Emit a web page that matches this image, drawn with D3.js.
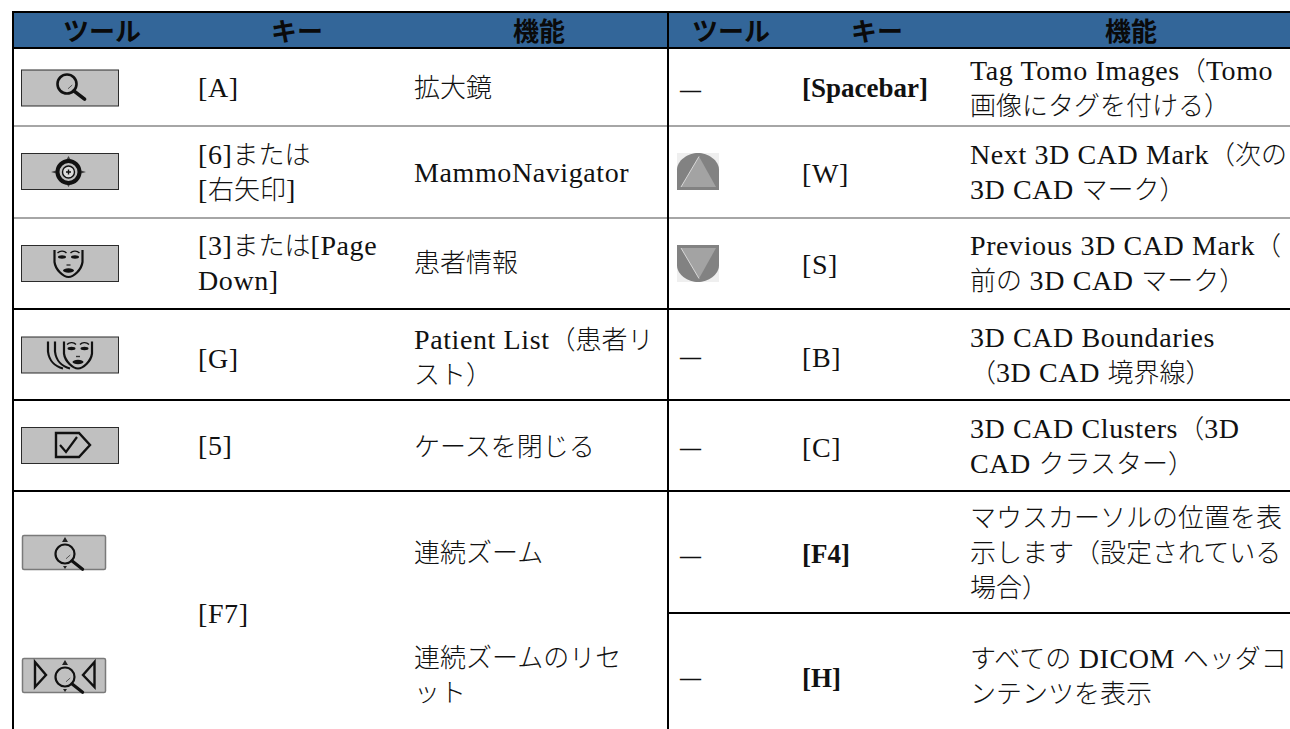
<!DOCTYPE html>
<html>
<head>
<meta charset="utf-8">
<script src="https://cdn.jsdelivr.net/npm/d3@7"></script>
<style>
    html, body { margin: 0; background: #fff; overflow: hidden; }
    text { white-space: pre; fill: #111; }
</style>
</head>
<body>
<svg id="paper" width="1290" height="729"></svg>
<script>
// table contents
const headers = ["ツール", "キー", "機能"];

const leftTools = ["magnify", "navigator", "face", "faces", "closeCase", "zoom", "zoomReset"];
const leftKeys = [["[A]"], ["[6]または", "[右矢印]"], ["[3]または[Page", "Down]"], ["[G]"], ["[5]"], ["[F7]"]];
const leftFunctions = [
    ["拡大鏡"],
    ["MammoNavigator"],
    ["患者情報"],
    ["Patient List（患者リ", "スト）"],
    ["ケースを閉じる"],
    ["連続ズーム"],
    ["連続ズームのリセ", "ット"]
];

const rightTools = ["—", "up", "down", "—", "—", "—", "—"];
const rightKeys = ["[Spacebar]", "[W]", "[S]", "[B]", "[C]", "[F4]", "[H]"];
const rightKeyBold = [true, false, false, false, false, true, true];
const rightFunctions = [
    ["Tag Tomo Images（Tomo", "画像にタグを付ける）"],
    ["Next 3D CAD Mark（次の", "3D CAD マーク）"],
    ["Previous 3D CAD Mark（", "前の 3D CAD マーク）"],
    ["3D CAD Boundaries", "（3D CAD 境界線）"],
    ["3D CAD Clusters（3D", "CAD クラスター）"],
    ["マウスカーソルの位置を表", "示します（設定されている", "場合）"],
    ["すべての DICOM ヘッダコ", "ンテンツを表示"]
];

// layout
const W = 1290, H = 729;
const kTableLeft = 13, kDivider = 668, kHeaderTop = 12, kHeaderBottom = 48;
const kGrayRules = [126, 218];
const kBlackRules = [309, 400, 491];
const kShortRule = 613;
const kLineHeight = 35;
const kSerif = "'Liberation Serif', 'Noto Sans CJK JP', serif";
const kGothic = "'Noto Sans CJK JP', sans-serif";

const headerX = d3.scaleOrdinal([0, 1, 2, 3, 4, 5], [102, 297, 539, 731, 877, 1131]);
const leftKeyY = d3.scaleOrdinal(d3.range(6), [97, 181, 272, 368, 455, 623]);
const leftFuncY = d3.scaleOrdinal(d3.range(7), [97, 182, 272, 366, 456, 562, 684]);
const rightKeyY = d3.scaleOrdinal(d3.range(7), [97, 183, 274, 367, 457, 563, 687]);
const rightDashY = d3.scaleOrdinal(d3.range(7), [97, 0, 0, 364, 455, 563, 685]);
const rightFuncY = d3.scaleOrdinal(d3.range(7), [97.5, 181, 272.5, 364.5, 455, 562, 685]);
const iconY = d3.scaleOrdinal(d3.range(7), [87.5, 171, 263, 354.5, 445, 552, 675]);
const markY = d3.scaleOrdinal(d3.range(7), [0, 171.5, 263.5, 0, 0, 0, 0]);

const paper = d3.select("#paper");

// Latin runs go in the serif, slightly spaced out, Japanese stays on the em grid
function splitRuns(str) {
    return str.match(/[\x20-\x7e]+|[^\x20-\x7e]+/g);
}

function isLatin(run) {
    return /^[\x20-\x7e]/.test(run);
}

function drawTextBlock(parent, lines, x, midY, bold) {
    const block = parent.append("g");
    lines.forEach((line, i) => {
        const t = block.append("text")
            .attr("x", x)
            .attr("y", midY + (i - (lines.length - 1) / 2) * kLineHeight)
            .attr("font-family", kSerif)
            .attr("font-weight", bold ? 700 : 400);
        t.selectAll("tspan")
            .data(splitRuns(line))
            .join("tspan")
            .attr("font-size", r => !isLatin(r) ? 26 : (bold ? 27 : 28))
            .attr("letter-spacing", r => (isLatin(r) && !bold) ? 0.6 : 0)
            .attr("font-family", r => isLatin(r) ? kSerif : kGothic)
            .attr("font-weight", r => (isLatin(r) && bold) ? 700 : 300)
            .text(r => r);
    });
}

function drawButton(g, x, y, w, h, rounded) {
    g.append("rect")
        .attr("x", x + 0.5).attr("y", y + 0.5)
        .attr("width", w).attr("height", h)
        .attr("rx", rounded ? 1.5 : 0)
        .attr("fill", "#c0c0c0")
        .attr("stroke", rounded ? "#7a7a7a" : "#2b2b2b")
        .attr("stroke-width", rounded ? 1.5 : 1);
}

function drawGlass(g, cx, cy, r, width) {
    g.append("circle").attr("cx", cx).attr("cy", cy).attr("r", r)
        .attr("fill", "none").attr("stroke", "#111").attr("stroke-width", width);
    g.append("line")
        .attr("x1", cx + r * 0.72).attr("y1", cy + r * 0.72)
        .attr("x2", cx + r * 1.85).attr("y2", cy + r * 1.6)
        .attr("stroke", "#111").attr("stroke-width", width + 1).attr("stroke-linecap", "round");
    g.append("line")
        .attr("x1", cx + 1).attr("y1", cy + r * 0.5)
        .attr("x2", cx + r * 0.55).attr("y2", cy + 1)
        .attr("stroke", "#555").attr("stroke-width", 1);
}

function drawFace(g, cx, cy) {
    const f = g.append("g").attr("transform", `translate(${cx},${cy})`);
    f.append("path")
        .attr("d", "M-14,-13 V-1 C-13,7 -5,14 0,14 C5,14 13,7 14,-1 V-13")
        .attr("fill", "none").attr("stroke", "#111").attr("stroke-width", 2.2);
    [-1, 1].forEach(s => {
        f.append("path")
            .attr("d", `M${s * 11},-10 C${s * 8},-13 ${s * 4},-12 ${s * 2},-10`)
            .attr("fill", "none").attr("stroke", "#111").attr("stroke-width", 1.4);
        f.append("ellipse").attr("cx", s * 6.5).attr("cy", -6).attr("rx", 4).attr("ry", 1.7).attr("fill", "#111");
    });
    f.append("path").attr("d", "M-2,2 H2").attr("stroke", "#333").attr("stroke-width", 1.4);
    f.append("ellipse").attr("cx", 0).attr("cy", 7.5).attr("rx", 5.5).attr("ry", 2.2).attr("fill", "#111");
}

const iconPainters = {
    magnify(g, y) {
        drawButton(g, 21, y - 18, 97, 36);
        drawGlass(g, 67, y - 3.5, 9.5, 2.6);
    },
    navigator(g, y) {
        drawButton(g, 21, y - 18, 97, 36);
        g.append("path")
            .attr("d", `M51,${y + 1} L61,${y - 2} L68.5,${y - 15} L76,${y - 2} L86,${y + 1} L76,${y + 4} L68.5,${y + 16} L61,${y + 4} Z`)
            .attr("fill", "#444");
        g.append("circle").attr("cx", 68.5).attr("cy", y + 1).attr("r", 11)
            .attr("fill", "#c0c0c0").attr("stroke", "#111").attr("stroke-width", 4);
        g.append("circle").attr("cx", 68.5).attr("cy", y + 1).attr("r", 6)
            .attr("fill", "#ddd").attr("stroke", "#111").attr("stroke-width", 1.4);
        g.append("path").attr("d", `M66,${y + 1} H71 M68.5,${y - 1.5} V${y + 3.5}`)
            .attr("stroke", "#111").attr("stroke-width", 1.4);
    },
    face(g, y) {
        drawButton(g, 21, y - 18, 97, 36);
        drawFace(g, 68.5, y);
    },
    faces(g, y) {
        drawButton(g, 21, y - 18, 97, 36);
        [0, 7].forEach(dx => {
            g.append("path")
                .attr("d", `M${48 + dx},${y - 13} V${y - 3} C${49 + dx},${y + 6} ${55 + dx},${y + 12} ${63 + dx},${y + 14}`)
                .attr("fill", "none").attr("stroke", "#111").attr("stroke-width", 2.2);
        });
        drawFace(g, 78, y);
    },
    closeCase(g, y) {
        drawButton(g, 21, y - 18, 97, 36);
        g.append("path")
            .attr("d", `M56,${y - 12} H79 L90,${y} L79,${y + 12} H56 Z`)
            .attr("fill", "none").attr("stroke", "#111").attr("stroke-width", 2.4);
        g.append("path")
            .attr("d", `M60,${y} L66,${y + 7} L77,${y - 8}`)
            .attr("fill", "none").attr("stroke", "#111").attr("stroke-width", 2.2);
    },
    zoom(g, y) {
        drawButton(g, 22, y - 17, 83, 34, true);
        drawZoomGlass(g, y);
    },
    zoomReset(g, y) {
        drawButton(g, 22, y - 17, 83, 34, true);
        drawZoomGlass(g, y);
        g.append("path").attr("d", `M35,${y - 13} L46,${y} L35,${y + 12} Z`)
            .attr("fill", "none").attr("stroke", "#111").attr("stroke-width", 2.4);
        g.append("path").attr("d", `M94.5,${y - 13} L83,${y} L94.5,${y + 12} Z`)
            .attr("fill", "none").attr("stroke", "#111").attr("stroke-width", 2.4);
    }
};

function drawZoomGlass(g, y) {
    drawGlass(g, 65, y + 2, 9.5, 2.2);
    g.append("path").attr("d", `M62,${y - 10} L65,${y - 15} L68,${y - 10} Z`).attr("fill", "#222");
    g.append("path").attr("d", `M63,${y + 14} L65,${y + 17} L67,${y + 14} Z`).attr("fill", "#222");
}

// grey dome with a lighter triangle, flip for the down arrow
function drawCadMark(y, up) {
    const g = paper.append("g")
        .attr("class", "cadMark")
        .attr("transform", `translate(698,${y}) scale(1,${up ? 1 : -1})`);
    g.append("rect").attr("x", -21).attr("y", -18.5).attr("width", 42).attr("height", 37).attr("fill", "#efefef");
    g.append("path")
        .attr("d", "M-21,18.5 V-2 C-21,-11 -10,-18.5 0,-18.5 C10,-18.5 21,-11 21,-2 V18.5 Z")
        .attr("fill", "#828282");
    g.append("path").attr("d", "M1,-15 L18,15.5 H-17 Z").attr("fill", "#a3a3a3");
    g.append("line").attr("x1", 1).attr("y1", -15).attr("x2", -17).attr("y2", 15.5)
        .attr("stroke", "#d8d8d8").attr("stroke-width", 1);
}

function drawHeader() {
    paper.append("rect")
        .attr("x", kTableLeft).attr("y", kHeaderTop)
        .attr("width", W - kTableLeft).attr("height", kHeaderBottom - kHeaderTop)
        .attr("fill", "#336699");

    paper.selectAll(".headerLabel")
        .data(headers.concat(headers))
        .join("text")
        .attr("class", "headerLabel")
        .attr("x", (d, i) => headerX(i))
        .attr("y", 41)
        .attr("text-anchor", "middle")
        .attr("font-family", kGothic)
        .attr("font-weight", 700)
        .attr("font-size", 26)
        .style("fill", "#0a0a0a")
        .text(d => d);
}

function drawRules() {
    paper.selectAll(".grayRule")
        .data(kGrayRules)
        .join("line")
        .attr("class", "grayRule")
        .attr("x1", kTableLeft).attr("x2", W)
        .attr("y1", d => d).attr("y2", d => d)
        .attr("stroke", "#a6a6a6").attr("stroke-width", 2);

    paper.selectAll(".blackRule")
        .data(kBlackRules)
        .join("line")
        .attr("class", "blackRule")
        .attr("x1", kTableLeft).attr("x2", W)
        .attr("y1", d => d).attr("y2", d => d)
        .attr("stroke", "#000").attr("stroke-width", 2);

    paper.append("line")
        .attr("x1", kDivider).attr("x2", W)
        .attr("y1", kShortRule).attr("y2", kShortRule)
        .attr("stroke", "#000").attr("stroke-width", 2);

    // frame: top, header bottom, left edge, middle divider
    [kHeaderTop, kHeaderBottom].forEach(y => {
        paper.append("line")
            .attr("x1", kTableLeft - 1).attr("x2", W)
            .attr("y1", y).attr("y2", y)
            .attr("stroke", "#000").attr("stroke-width", 2);
    });
    [kTableLeft, kDivider].forEach(x => {
        paper.append("line")
            .attr("x1", x).attr("x2", x)
            .attr("y1", kHeaderTop).attr("y2", H)
            .attr("stroke", "#000").attr("stroke-width", 2);
    });
}

function drawLeftHalf() {
    leftTools.forEach((tool, i) => {
        iconPainters[tool](paper.append("g").attr("class", "toolIcon"), iconY(i));
    });
    leftKeys.forEach((lines, i) => drawTextBlock(paper, lines, 198, leftKeyY(i), false));
    leftFunctions.forEach((lines, i) => drawTextBlock(paper, lines, 414, leftFuncY(i), false));
}

function drawRightHalf() {
    rightTools.forEach((tool, i) => {
        if (tool === "up" || tool === "down") {
            drawCadMark(markY(i), tool === "up");
        } else {
            paper.append("text")
                .attr("x", 680).attr("y", rightDashY(i))
                .attr("font-family", kSerif).attr("font-size", 21).attr("font-weight", 700)
                .text(tool);
        }
    });
    rightKeys.forEach((key, i) => drawTextBlock(paper, [key], 802, rightKeyY(i), rightKeyBold[i]));
    rightFunctions.forEach((lines, i) => drawTextBlock(paper, lines, 970, rightFuncY(i), false));
}

drawHeader();
drawRules();
drawLeftHalf();
drawRightHalf();
</script>
</body>
</html>
